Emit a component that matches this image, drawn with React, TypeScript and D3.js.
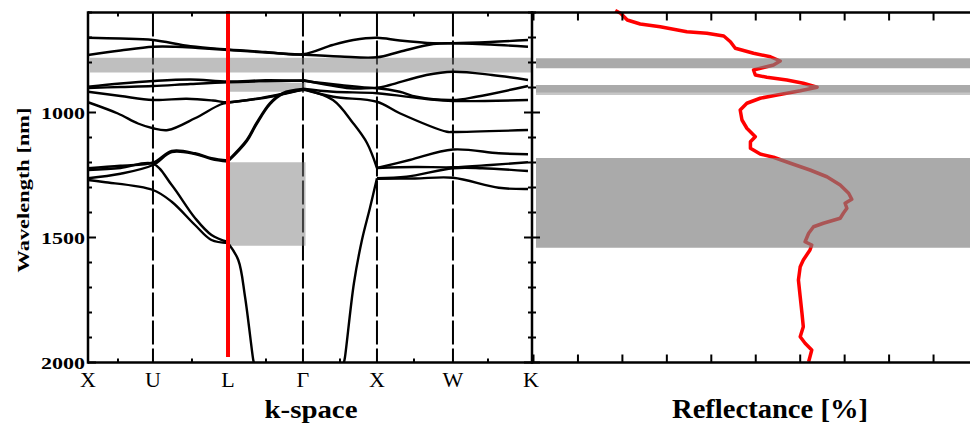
import React from 'react';
import * as d3 from 'd3';

// ---------- data ----------
const HS_LABELS = ['X', 'U', 'L', 'Γ', 'X', 'W', 'K'];
const HS_PATH = [0, 0.878, 1.892, 2.905, 3.905, 4.932, 5.946];
const K_MINOR = [0.405, 1.405, 2.405, 3.405, 4.405, 5.405];
const WL_TICKS = [600, 700, 800, 900, 1000, 1100, 1200, 1300, 1400, 1500, 1600, 1700, 1800, 1900, 2000];
const WL_LABELS = [1000, 1500, 2000];
const R_TICKS = [0, 10, 20, 30, 40, 50, 60, 70, 80, 90, 100];

// band lines: [k-segment index, wavelength nm]
const T1 = [[0, 701], [0.5, 704], [1, 710], [1.5, 735], [2, 748], [2.5, 758], [3, 767], [3.4, 730], [3.68, 710], [4, 701], [4.3, 712], [4.74, 723], [5, 723], [5.5, 718], [6, 710]];
const T2 = [[0, 770], [0.5, 752], [1, 737], [1.3, 737], [1.6, 742], [2, 750], [2.5, 760], [3, 769], [3.5, 776], [4, 779], [4.3, 757], [4.74, 726], [5, 723], [5.5, 728], [6, 737]];
const P1 = [[0, 897], [0.5, 884], [1, 874], [1.5, 868], [2, 876], [2.5, 871], [3, 873]];
const Q1 = [[0, 902], [0.5, 898], [1, 894], [1.5, 886], [2, 879], [2.5, 875], [3, 872]];
const R1 = [[0, 917], [0.5, 934], [1, 950], [1.45, 945], [1.8, 952], [2, 959], [2.53, 937], [3, 907]];
const S1 = [[0, 959], [0.46, 1004], [0.77, 1044], [1, 1063], [1.2, 1070], [1.56, 1023], [1.9, 968], [2, 961], [2.53, 939], [3, 908]];
const G1 = [[0, 1223], [0.5, 1213], [1, 1200], [1.25, 1154], [1.56, 1163], [1.78, 1183], [2, 1192]];
const G3 = [[0, 1263], [0.5, 1245], [1, 1210], [1.25, 1158], [1.56, 1166], [1.78, 1186], [2, 1196]];
const G2 = [[0, 1230], [0.5, 1222], [1, 1205], [1.25, 1290], [1.56, 1422], [1.78, 1490], [2, 1518]];
const G4 = [[0, 1270], [0.24, 1278], [1, 1310], [1.25, 1357], [1.56, 1450], [1.78, 1510], [2, 1522]];
const STEEP1 = [[2, 1192], [2.25, 1110], [2.38, 1042], [2.56, 962], [2.73, 922], [3, 906]];
const STEEP2 = [[2, 1196], [2.25, 1115], [2.38, 1047], [2.56, 967], [2.73, 926], [3, 909]];
const DOWN_L = [[2, 1522], [2.137, 1590], [2.227, 1737], [2.337, 1990], [2.345, 2000]];
const E1 = [[3, 906], [3.405, 950], [3.676, 1042], [3.865, 1122], [4, 1222]];
const A1 = [[3, 873], [3.5, 890], [4, 901], [4.17, 890], [4.65, 850], [5, 837], [5.52, 850], [6, 870]];
const B1 = [[3, 870], [3.64, 903], [4, 903], [4.3, 917], [4.52, 937], [5, 950], [5.31, 937], [6, 894]];
const C1 = [[3, 905], [3.41, 917], [4, 923], [4.65, 946], [5, 954], [6, 950]];
const D1 = [[3, 907], [3.41, 937], [4, 957], [4.3, 1003], [4.92, 1077], [5, 1078], [6, 1070]];
const H1 = [[4, 1222], [4.43, 1190], [5, 1148], [5.61, 1163], [6, 1167]];
const H2 = [[4, 1222], [4.5, 1218], [5, 1219], [5.5, 1210], [6, 1199]];
const H3 = [[4, 1263], [4.39, 1257], [5, 1223], [5.39, 1223], [6, 1234]];
const H4 = [[4, 1265], [4.5, 1264], [5, 1261], [5.61, 1301], [6, 1306]];
const DOWN_X = [[4, 1263], [3.905, 1382], [3.797, 1510], [3.689, 1682], [3.568, 1978], [3.554, 2000]];
const BANDS = [T1, T2, P1, Q1, R1, S1, G1, G3, G2, G4, STEEP1, STEEP2, DOWN_L, E1, A1, B1, C1, D1, H1, H2, H3, H4, DOWN_X];

// photonic gaps in band diagram: [k0, k1, wl0, wl1]
const GAPS_LEFT = [[0.03, 6.05, 781, 840], [2.01, 3.035, 881, 917], [2.01, 3.035, 1199, 1533]];
// stop bands in reflectance panel: [wl0, wl1]
const GAPS_RIGHT = [[783, 823], [890, 921], [1182, 1541]];
const GAPS_RIGHT_LIGHT = [[921, 930]];
const RED_LINE_WL = [594, 1978];

// reflectance spectrum: wavelength nm, reflectance %
const REFL_WL = [592, 603, 630, 646, 657, 677, 683, 694, 717, 743, 763, 777, 794, 810, 830, 850, 859, 870, 883, 899, 913, 930, 943, 963, 990, 1030, 1063, 1097, 1117, 1143, 1166, 1179, 1203, 1230, 1257, 1290, 1323, 1347, 1363, 1383, 1403, 1423, 1443, 1457, 1483, 1517, 1530, 1550, 1590, 1617, 1670, 1737, 1803, 1857, 1897, 1923, 1950, 1977, 1997];
const REFL_R = [18.4, 19.6, 21.1, 24.0, 28.5, 34.5, 39.0, 42.8, 44.3, 45.4, 49.5, 53.3, 55.5, 54.0, 49.5, 49.9, 52.5, 57.0, 60.7, 63.8, 60.0, 54.8, 51.0, 48.0, 46.5, 46.9, 48.0, 49.9, 48.8, 48.8, 51.0, 54.0, 57.8, 62.2, 66.0, 69.0, 70.9, 71.6, 70.1, 70.5, 69.7, 69.0, 65.2, 63.0, 61.9, 61.1, 62.6, 62.2, 60.7, 60.0, 59.6, 60.0, 60.4, 60.7, 60.0, 61.1, 62.6, 62.2, 61.9];

export default function App() {
  const W = 970, H = 427;
  const y = d3.scaleLinear().domain([600, 2000]).range([12.5, 362.5]);
  const kx = d3.scaleLinear().domain([0, 6]).range([88, 532]);
  const seg = d3.scaleLinear().domain([0, 1, 2, 3, 4, 5, 6]).range(HS_PATH.map((p) => kx(p)));
  const rx = d3.scaleLinear().domain([0, 100]).range([533.5, 978]);
  const line = d3.line<number[]>().x((d) => seg(d[0])).y((d) => y(d[1])).curve(d3.curveCatmullRom.alpha(0.5));
  const refl = d3.line<number>().x((_, i) => rx(REFL_R[i])).y((d) => y(d)).curve(d3.curveLinear);

  const xL = 88, xM = 532, yT = y(600), yB = y(2000);
  const serif = '"Liberation Serif", "DejaVu Serif", serif';

  return (
    <div style={{ position: 'absolute', left: 0, top: 0 }}>
      <svg width={W} height={H} style={{ display: 'block', background: '#fff' }}>
        <rect x={0} y={0} width={W} height={H} fill="#fff" />
        {/* dashed high symmetry lines */}
        {HS_PATH.map((p, i) => (i === 1 || i === 3 || i === 4 || i === 5) ? (
          <line key={'d' + i} x1={seg(i)} x2={seg(i)} y1={yT} y2={yB} stroke="#000" strokeWidth={2} strokeDasharray="24,4" />
        ) : null)}
        {/* left gaps */}
        {GAPS_LEFT.map((g, i) => (
          <rect key={'gl' + i} x={seg(g[0])} width={seg(g[1]) - seg(g[0])} y={y(g[2])} height={y(g[3]) - y(g[2])} fill="#808080" fillOpacity={0.5} />
        ))}
        {/* bands */}
        {BANDS.map((b, i) => (
          <path key={'b' + i} d={line(b as number[][]) || ''} fill="none" stroke="#000" strokeWidth={2.4} />
        ))}
        {/* red line at L */}
        <line x1={seg(2)} x2={seg(2)} y1={y(RED_LINE_WL[0])} y2={y(RED_LINE_WL[1])} stroke="#ff0000" strokeWidth={4} />
        {/* reflectance */}
        <path d={refl(REFL_WL) || ''} fill="none" stroke="#ff0000" strokeWidth={3.5} strokeLinejoin="round" />
        {GAPS_RIGHT_LIGHT.map((g, i) => (
          <rect key={'grl' + i} x={536} width={W - 536} y={y(g[0])} height={y(g[1]) - y(g[0])} fill="#808080" fillOpacity={0.45} />
        ))}
        {GAPS_RIGHT.map((g, i) => (
          <rect key={'gr' + i} x={536} width={W - 536} y={y(g[0])} height={y(g[1]) - y(g[0])} fill="#808080" fillOpacity={0.667} />
        ))}
        {/* frames */}
        <line x1={xL} x2={xL} y1={yT - 1.2} y2={yB + 1.2} stroke="#000" strokeWidth={2.5} />
        <line x1={xM} x2={xM} y1={yT - 1.2} y2={yB + 1.2} stroke="#000" strokeWidth={2.5} />
        <line x1={xL} x2={W} y1={yT} y2={yT} stroke="#000" strokeWidth={2.5} />
        <line x1={xL} x2={W} y1={yB} y2={yB} stroke="#000" strokeWidth={2.5} />
        {/* left axis ticks */}
        {WL_TICKS.map((t) => {
          const major = WL_LABELS.includes(t);
          return (
            <g key={'wt' + t}>
              <line x1={xL} x2={xL + (major ? 8 : 4)} y1={y(t)} y2={y(t)} stroke="#000" strokeWidth={2} />
              <line x1={xM - (major ? 8 : 4)} x2={xM + (major ? 8 : 4)} y1={y(t)} y2={y(t)} stroke="#000" strokeWidth={2} />
            </g>
          );
        })}
        {K_MINOR.map((k) => (
          <g key={'km' + k}>
            <line x1={kx(k)} x2={kx(k)} y1={yT} y2={yT + 4} stroke="#000" strokeWidth={2} />
            <line x1={kx(k)} x2={kx(k)} y1={yB} y2={yB - 4} stroke="#000" strokeWidth={2} />
          </g>
        ))}
        {R_TICKS.map((r) => (
          <g key={'rt' + r}>
            <line x1={rx(r)} x2={rx(r)} y1={yT} y2={yT + 8} stroke="#000" strokeWidth={2} />
            <line x1={rx(r)} x2={rx(r)} y1={yB} y2={yB - 8} stroke="#000" strokeWidth={2} />
          </g>
        ))}
        {/* labels */}
        {WL_LABELS.map((t) => (
          <text key={'wl' + t} x={85} y={y(t) + 6} textAnchor="end" fontFamily={serif} fontWeight="bold" fontSize={17} textLength={44} lengthAdjust="spacingAndGlyphs">{t}</text>
        ))}
        {HS_LABELS.map((l, i) => (
          <text key={'hs' + i} x={seg(i) + (i === 6 ? 3 : 0)} y={387} textAnchor="middle" fontFamily={serif} fontSize={22}>{l}</text>
        ))}
        <text x={311} y={418} textAnchor="middle" fontFamily={serif} fontWeight="bold" fontSize={26} textLength={93} lengthAdjust="spacingAndGlyphs">k-space</text>
        <text x={770} y={418} textAnchor="middle" fontFamily={serif} fontWeight="bold" fontSize={27} textLength={196} lengthAdjust="spacingAndGlyphs">Reflectance [%]</text>
        <text transform="translate(29,190) rotate(-90)" textAnchor="middle" fontFamily={serif} fontWeight="bold" fontSize={17} textLength={165} lengthAdjust="spacingAndGlyphs">Wavelength [nm]</text>
      </svg>
    </div>
  );
}
